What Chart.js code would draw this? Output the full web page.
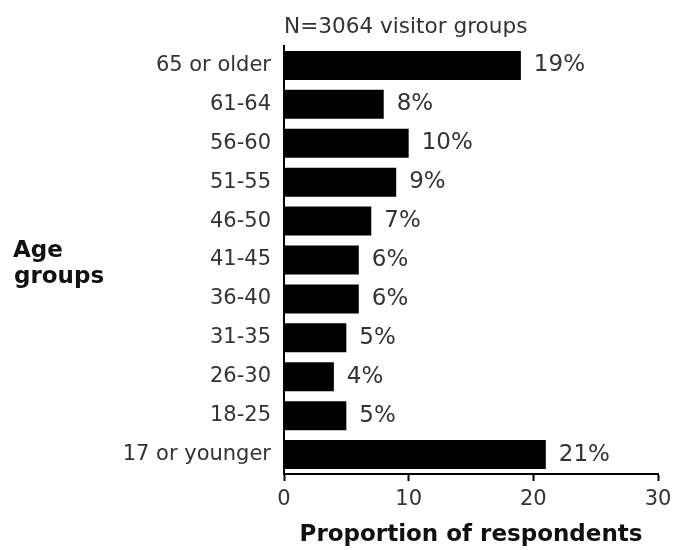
<!DOCTYPE html>
<html>
<head>
<meta charset="utf-8">
<script src="https://cdn.jsdelivr.net/npm/chart.js@4"></script>
<style>
  html, body { margin: 0; padding: 0; background: #fff; }
  #wrap { width: 684px; height: 550px; position: relative; }
</style>
</head>
<body>
<div id="wrap"><canvas id="ageChart"></canvas></div>
<script>
const ageGroups = ['65 or older', '61-64', '56-60', '51-55', '46-50', '41-45', '36-40', '31-35', '26-30', '18-25', '17 or younger'];
const proportions = [19, 8, 10, 9, 7, 6, 6, 5, 4, 5, 21];
const xTicks = [0, 10, 20, 30];

const WIDE = '"DejaVu Sans", Verdana, sans-serif';

// extra text: subtitle, "Age groups" label and the % labels after each bar
const extraText = {
    id: 'extraText',
    afterDatasetsDraw(chart) {
        const ctx = chart.ctx;
        const area = chart.chartArea;
        ctx.save();
        ctx.fillStyle = '#333';
        ctx.font = '21.6px ' + WIDE;
        ctx.textBaseline = 'alphabetic';
        ctx.textAlign = 'left';
        ctx.fillText('N=3064 visitor groups', area.left, 33);

        ctx.font = 'bold 23px ' + WIDE;
        ctx.fillStyle = '#111';
        ctx.fillText('Age', 13, 257);
        ctx.fillText('groups', 14, 283);

        ctx.font = '23px ' + WIDE;
        ctx.fillStyle = '#333';
        ctx.textBaseline = 'middle';
        chart.getDatasetMeta(0).data.forEach((bar, i) => {
            ctx.fillText(proportions[i] + '%', bar.x + 13, bar.y);
        });
        ctx.restore();
    }
};

const ctx = document.getElementById('ageChart').getContext('2d');

new Chart(ctx, {
    type: 'bar',
    data: {
        labels: ageGroups,
        datasets: [{
            data: proportions,
            backgroundColor: '#000',
            borderWidth: 0,
            barPercentage: 0.745,
            categoryPercentage: 1
        }]
    },
    options: {
        indexAxis: 'y',
        responsive: true,
        maintainAspectRatio: false,
        animation: false,
        layout: { padding: { top: 46, right: 26, left: 0, bottom: 0 } },
        plugins: {
            legend: { display: false },
            tooltip: { enabled: false }
        },
        scales: {
            x: {
                min: 0,
                max: 30,
                afterBuildTicks: s => { s.ticks = xTicks.map(v => ({ value: v })); },
                afterFit: s => { s.height = 76; },
                grid: {
                    drawOnChartArea: false,
                    color: '#000',
                    tickLength: 7,
                    tickWidth: 2
                },
                border: { color: '#000', width: 2 },
                ticks: {
                    color: '#333',
                    font: { family: WIDE, size: 21 },
                    padding: 6
                },
                title: {
                    display: true,
                    text: 'Proportion of respondents',
                    color: '#111',
                    font: { family: WIDE, size: 23, weight: 'bold' },
                    padding: { top: 4, bottom: 1 }
                }
            },
            y: {
                afterFit: s => { s.width = 284; },
                grid: { display: false },
                border: { color: '#000', width: 2 },
                ticks: {
                    color: '#333',
                    font: { family: WIDE, size: 21 },
                    padding: 5
                }
            }
        }
    },
    plugins: [extraText]
});
</script>
</body>
</html>
